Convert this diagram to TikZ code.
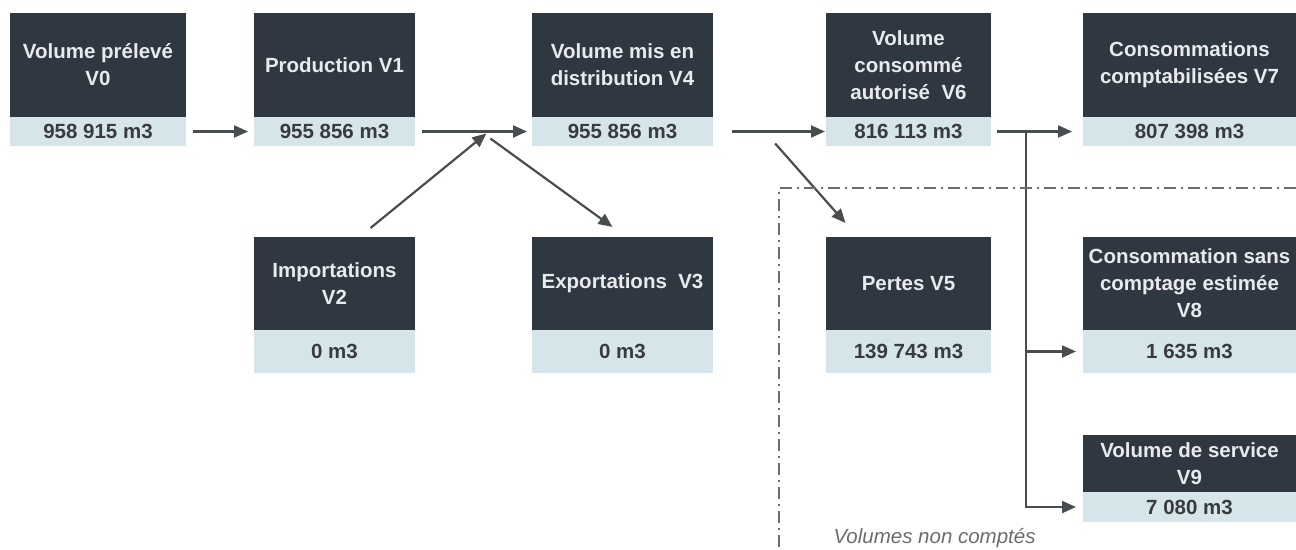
\documentclass[tikz,border=0pt]{standalone}
\usepackage{fontspec}
\setmainfont{Liberation Sans}
\usetikzlibrary{arrows.meta,positioning,calc}
\definecolor{slate}{HTML}{2F3841}
\definecolor{band}{HTML}{D5E5EA}
\definecolor{titletext}{HTML}{E8EBED}
\definecolor{valtext}{HTML}{383C40}
\definecolor{linegray}{HTML}{4A4D50}
\definecolor{framegray}{HTML}{6A6D70}

\begin{document}
\begin{tikzpicture}[x=1pt, y=-1pt,
    title/.style={fill=slate, text=titletext, font=\fontsize{20.5}{27}\selectfont\bfseries, align=center, inner sep=0pt, outer sep=0pt, anchor=north west},
    value/.style={fill=band, text=valtext, font=\fontsize{20.5}{24}\selectfont\bfseries, inner sep=0pt, outer sep=0pt},
    toprow/.style={title, minimum height=104pt},
    lowrow/.style={title, minimum height=93pt},
    topval/.style={value, minimum height=29pt},
    lowval/.style={value, minimum height=43pt},
    arrow/.style={-{Triangle[length=14pt,width=12pt]}, line width=2.2pt, draw=linegray},
    frame/.style={draw=framegray, line width=1.5pt, dash pattern=on 12pt off 5pt on 2pt off 5pt},
    note/.style={text=framegray, font=\fontsize{20.5}{24}\selectfont\itshape}
]
\useasboundingbox (0,0) rectangle (1296,549);

% upper row
\node[toprow, minimum width=176pt] (v0) at (10,13) {Volume prélevé\\V0};
\node[topval, minimum width=176pt, below=0pt of v0] (v0n) {958 915 m3};
\node[toprow, minimum width=161pt] (v1) at (254,13) {Production V1};
\node[topval, minimum width=161pt, below=0pt of v1] (v1n) {955 856 m3};
\node[toprow, minimum width=181pt] (v4) at (532,13) {Volume mis en\\distribution V4};
\node[topval, minimum width=181pt, below=0pt of v4] (v4n) {955 856 m3};
\node[toprow, minimum width=165pt] (v6) at (826,13) {Volume\\consommé\\autorisé~~V6};
\node[topval, minimum width=165pt, below=0pt of v6] (v6n) {816 113 m3};
\node[toprow, minimum width=213pt] (v7) at (1083,13) {Consommations\\comptabilisées V7};
\node[topval, minimum width=213pt, below=0pt of v7] (v7n) {807 398 m3};

% lower row
\node[lowrow, minimum width=161pt] (v2) at (254,237) {Importations\\V2};
\node[lowval, minimum width=161pt, below=0pt of v2] (v2n) {0 m3};
\node[lowrow, minimum width=181pt] (v3) at (532,237) {Exportations~~V3};
\node[lowval, minimum width=181pt, below=0pt of v3] (v3n) {0 m3};
\node[lowrow, minimum width=165pt] (v5) at (826,237) {Pertes V5};
\node[lowval, minimum width=165pt, below=0pt of v5] (v5n) {139 743 m3};
\node[lowrow, minimum width=213pt] (v8) at (1083,237) {Consommation sans\\comptage estimée\\V8};
\node[lowval, minimum width=213pt, below=0pt of v8] (v8n) {1 635 m3};
\node[title, minimum width=213pt, minimum height=57pt] (v9) at (1083,435) {Volume de service\\V9};
\node[topval, minimum width=213pt, minimum height=30pt, below=0pt of v9] (v9n) {7 080 m3};

% forks on the main line
\coordinate (imp) at ($(v1n.east)!0.61!(v4n.west)$);
\coordinate (lossfork) at ($(v4n.east)!0.55!(v6n.west)$);
\coordinate (split) at ($(v6n.east)!0.38!(v7n.west)$);

\draw[arrow, shorten <=7pt, shorten >=6pt] (v0n) -- (v1n);
\draw[arrow, shorten <=7pt, shorten >=5pt] (v1n) -- (v4n);
\draw[arrow] ([xshift=36pt,yshift=9pt]v2.north) -- ([yshift=-2pt]imp);
\draw[arrow] ([xshift=4pt,yshift=-7pt]imp) -- ([xshift=-10pt,yshift=10pt]v3.north);
\draw[arrow, shorten <=19pt, shorten >=1pt] (v4n) -- (v6n);
\draw[arrow] ([yshift=-12pt]lossfork) -- ([xshift=-63pt,yshift=14pt]v5.north);
\draw[arrow, shorten <=6pt, shorten >=11pt] (v6n) -- (v7n);
\draw[arrow, shorten >=7pt] (split) |- (v8n.west);
\draw[arrow, shorten >=7pt] (split) |- (v9n.west);

% unmetered volumes
\draw[frame] (1296,188) -| (779,549);
\node[note, anchor=base west] (nc) at (830,543) {Volumes non comptés};
\end{tikzpicture}
\end{document}
